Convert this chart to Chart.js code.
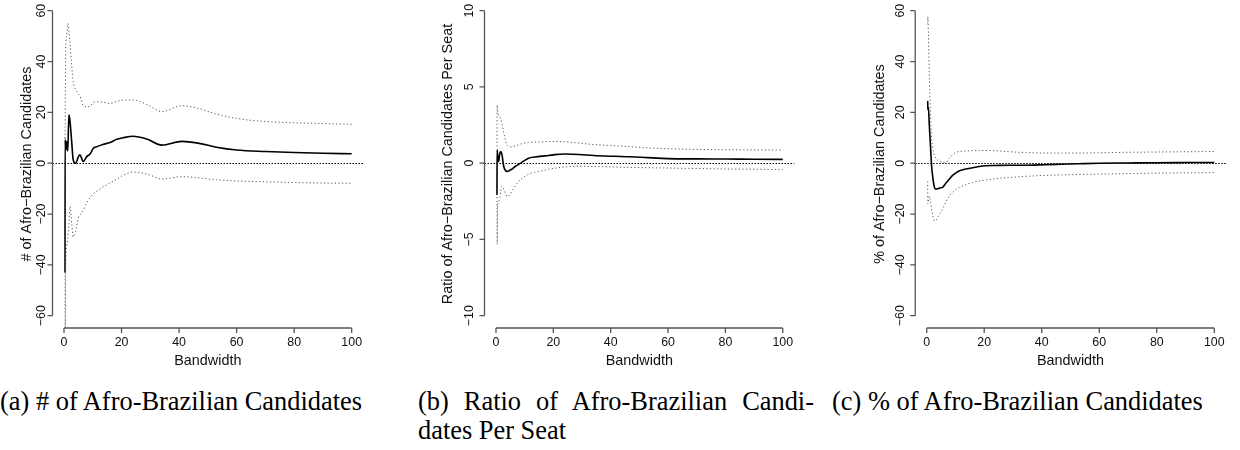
<!DOCTYPE html>
<html>
<head>
<meta charset="utf-8">
<script src="https://cdn.jsdelivr.net/npm/chart.js@4.4.1/dist/chart.umd.min.js"></script>
<style>
  body { margin: 0; background: #fff; width: 1240px; height: 450px; overflow: hidden; position: relative; }
  canvas { position: absolute; top: 0; }
  .cap { position: absolute; font-family: "Liberation Serif", "Times New Roman", serif; font-size: 26.4px; line-height: 29.3px; color: #000; white-space: nowrap; }
  .just { white-space: normal; text-align: justify; text-align-last: justify; }
</style>
</head>
<body>
<canvas id="chartA" width="420" height="380" style="left:0px"></canvas>
<canvas id="chartB" width="410" height="380" style="left:420px"></canvas>
<canvas id="chartC" width="410" height="380" style="left:830px"></canvas>

<div class="cap" style="left:0px; top:387px;">(a) # of Afro-Brazilian Candidates</div>
<div class="cap just" style="left:418px; top:387px; width:396px;">(b) Ratio of Afro-Brazilian Candi-</div>
<div class="cap" style="left:418px; top:416.3px;">dates Per Seat</div>
<div class="cap" style="left:832px; top:387px;">(c) % of Afro-Brazilian Candidates</div>

<script>
// bandwidth grid shared by all three panels
const bandwidth = [0.35, 0.4, 0.6, 0.9, 1.3, 1.7, 2.1, 2.7, 3.2, 4, 5, 5.5, 6.7, 7.9, 9, 10.2, 11.4, 13.5, 16, 18.3, 20.5, 24, 29, 34, 41, 47, 53, 60, 70, 80, 90, 100];

// (a) number of candidates: estimate and confidence bounds
const estCount = [-43, 9.2, 5, 8.5, 4.8, 19, 16.4, 8, 1.3, 0, 2.5, 3.3, 0.7, 2.6, 3.5, 5.9, 6.5, 7.4, 8.1, 9.4, 10, 10.6, 9.4, 7.1, 8.6, 7.8, 6.3, 5.2, 4.6, 4.2, 3.9, 3.7];
const upperCount = [9.8, 14, 46, 50, 55, 52, 47, 38, 32, 29, 27.2, 26.5, 22.6, 22.2, 22.4, 23.9, 24.2, 24, 23.5, 24.3, 24.8, 24.9, 23, 20.3, 22.6, 21.5, 19.3, 17.6, 16.4, 15.9, 15.6, 15.3];
const lowerCount = [9.8, -80, -40, -33, -30, -24, -17, -24, -29, -27, -21.5, -20.5, -18.4, -15.5, -13.6, -12, -11, -9.4, -7.8, -6.3, -4.8, -3.5, -4.3, -6.2, -5.3, -5.8, -6.5, -7, -7.3, -7.6, -7.8, -7.9];

// (b) candidates per seat
const estRatio = [-2.08, 0.87, 0.5, 0.1, 0.6, 0.76, 0.54, -0.2, -0.45, -0.55, -0.45, -0.4, -0.22, -0.08, 0.05, 0.2, 0.33, 0.4, 0.46, 0.5, 0.56, 0.6, 0.57, 0.5, 0.45, 0.42, 0.36, 0.3, 0.28, 0.27, 0.26, 0.25];
const upperRatio = [1.09, 3.8, 3.4, 3.2, 3.06, 2.9, 2.6, 2.0, 1.6, 1.15, 1.08, 1.06, 1.12, 1.2, 1.28, 1.33, 1.36, 1.38, 1.4, 1.42, 1.42, 1.4, 1.32, 1.22, 1.15, 1.08, 1.0, 0.95, 0.9, 0.88, 0.87, 0.86];
const lowerRatio = [-2.0, -5.3, -2.6, -2.5, -2.3, -1.8, -1.5, -1.7, -1.95, -2.2, -2.0, -1.85, -1.5, -1.2, -1.0, -0.85, -0.72, -0.6, -0.5, -0.4, -0.33, -0.25, -0.2, -0.22, -0.25, -0.28, -0.3, -0.32, -0.35, -0.38, -0.4, -0.42];

// (c) share of candidates
const estShare = [24.5, 21, 22, 15, 7, -1, -5.5, -9.5, -10.2, -10, -9.7, -9.5, -7.8, -6.2, -4.8, -3.8, -3.0, -2.3, -1.8, -1.3, -1.0, -0.9, -0.8, -0.8, -0.6, -0.4, -0.2, 0, 0.1, 0.2, 0.25, 0.3];
const upperShare = [55, 57.7, 50, 35, 20, 10, 6, 3, 2, 1.0, 0.5, 0.2, 0.3, 2, 3.3, 4.3, 4.6, 4.8, 4.9, 5.0, 5.0, 4.9, 4.5, 4.2, 4.0, 4.0, 4.0, 4.1, 4.3, 4.4, 4.5, 4.6];
const lowerShare = [-7.2, -16, -15.5, -13, -15, -18, -20.5, -22.7, -22.5, -21, -19, -18, -15.2, -12.8, -11.5, -10.3, -9.5, -8.5, -7.6, -7.0, -6.6, -6.1, -5.6, -5.2, -4.8, -4.6, -4.4, -4.3, -4.1, -3.9, -3.8, -3.7];

// axis ticks
const xTicks = [0, 20, 40, 60, 80, 100];
const yTicksPct = [-60, -40, -20, 0, 20, 40, 60];
const yTicksRatio = [-10, -5, 0, 5, 10];

const MINUS = '\u2212';
const fmt = v => (v < 0 ? MINUS + Math.abs(v) : String(v));

// base-graphics style axes: lines only between the outer ticks, rotated y labels
const rAxes = {
  id: 'rAxes',
  afterDatasetsDraw(chart, args, o) {
    const { ctx, chartArea, scales: { y } } = chart;
    const y0 = Math.round(y.getPixelForValue(0)) + 0.5;
    ctx.save();
    ctx.strokeStyle = '#000';
    ctx.lineWidth = 1;
    ctx.setLineDash([1.5, 1.5]);
    ctx.beginPath();
    ctx.moveTo(chartArea.left, y0);
    ctx.lineTo(chartArea.right, y0);
    ctx.stroke();
    ctx.restore();
  },
  afterDraw(chart, args, o) {
    const { ctx, chartArea, scales: { x, y } } = chart;
    ctx.save();
    ctx.strokeStyle = '#555';
    ctx.lineWidth = 1.3;
    ctx.fillStyle = '#111';

    // x axis
    const xb = chartArea.bottom;
    ctx.beginPath();
    ctx.moveTo(x.getPixelForValue(xTicks[0]), xb);
    ctx.lineTo(x.getPixelForValue(xTicks[xTicks.length - 1]), xb);
    xTicks.forEach(t => {
      const px = x.getPixelForValue(t);
      ctx.moveTo(px, xb);
      ctx.lineTo(px, xb + 5);
    });
    ctx.stroke();
    ctx.font = '12.4px "Liberation Sans", Arial, sans-serif';
    ctx.textAlign = 'center';
    ctx.textBaseline = 'middle';
    xTicks.forEach(t => ctx.fillText(fmt(t), x.getPixelForValue(t), xb + 14.5));
    ctx.font = '14.4px "Liberation Sans", Arial, sans-serif';
    ctx.fillText('Bandwidth', (chartArea.left + chartArea.right) / 2, xb + 33);

    // y axis
    const yl = chartArea.left;
    const ticks = o.yTicks;
    ctx.beginPath();
    ctx.moveTo(yl, y.getPixelForValue(ticks[0]));
    ctx.lineTo(yl, y.getPixelForValue(ticks[ticks.length - 1]));
    ticks.forEach(t => {
      const py = y.getPixelForValue(t);
      ctx.moveTo(yl, py);
      ctx.lineTo(yl - 5, py);
    });
    ctx.stroke();
    ctx.font = '12.4px "Liberation Sans", Arial, sans-serif';
    ticks.forEach(t => {
      ctx.save();
      ctx.translate(o.tickX, y.getPixelForValue(t));
      ctx.rotate(-Math.PI / 2);
      ctx.fillText(fmt(t), 0, 0);
      ctx.restore();
    });
    ctx.font = '14.4px "Liberation Sans", Arial, sans-serif';
    ctx.save();
    ctx.translate(o.titleX, (chartArea.top + chartArea.bottom) / 2);
    ctx.rotate(-Math.PI / 2);
    ctx.fillText(o.title, 0, 0);
    ctx.restore();
    ctx.restore();
  }
};

function series(vals, solid) {
  return {
    data: bandwidth.map((b, i) => ({ x: b, y: vals[i] })),
    borderColor: solid ? '#000' : '#555',
    borderWidth: solid ? 1.6 : 1,
    borderDash: solid ? [] : [1.2, 2.4],
    pointRadius: 0,
    cubicInterpolationMode: 'monotone',
    fill: false
  };
}

function makePanel(id, est, upper, lower, yMin, yMax, pad, axisOpts) {
  return new Chart(document.getElementById(id), {
    type: 'line',
    data: { datasets: [series(upper, false), series(lower, false), series(est, true)] },
    options: {
      responsive: false,
      animation: false,
      events: [],
      layout: { padding: pad },
      plugins: { legend: { display: false }, tooltip: { enabled: false }, rAxes: axisOpts },
      scales: {
        x: { type: 'linear', min: -4, max: 104, display: false },
        y: { type: 'linear', min: yMin, max: yMax, display: false }
      }
    },
    plugins: [rAxes]
  });
}

makePanel('chartA', estCount, upperCount, lowerCount, -64.84, 64.21,
  { left: 52.5, right: 56.8, top: 0, bottom: 52 },
  { yTicks: yTicksPct, tickX: 41.7, titleX: 27.3, title: '# of Afro' + MINUS + 'Brazilian Candidates' });

makePanel('chartB', estRatio, upperRatio, lowerRatio, -10.81, 10.70,
  { left: 64.5, right: 35.8, top: 0, bottom: 52 },
  { yTicks: yTicksRatio, tickX: 49.3, titleX: 28.3, title: 'Ratio of Afro' + MINUS + 'Brazilian Candidates Per Seat' });

makePanel('chartC', estShare, upperShare, lowerShare, -64.84, 64.21,
  { left: 85.2, right: 14.2, top: 0, bottom: 52 },
  { yTicks: yTicksPct, tickX: 70.8, titleX: 50, title: '% of Afro' + MINUS + 'Brazilian Candidates' });
</script>
</body>
</html>
